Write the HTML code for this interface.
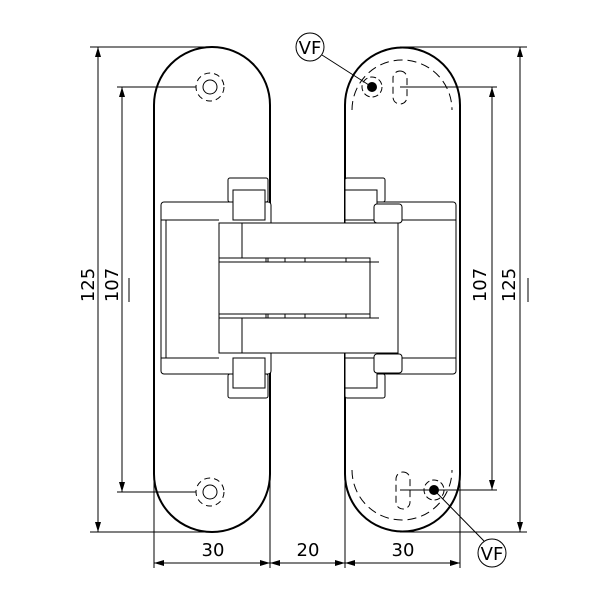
<!DOCTYPE html>
<html><head><style>body{margin:0;background:#fff}svg{display:block}text{font-family:"DejaVu Sans","Liberation Sans",sans-serif;font-size:18px;fill:#000}</style></head>
<body>
<svg width="600" height="600" viewBox="0 0 600 600" xmlns="http://www.w3.org/2000/svg">
<defs><marker id="a" markerWidth="10" markerHeight="8" refX="10" refY="4" orient="auto-start-reverse" markerUnits="userSpaceOnUse"><path d="M0,1 L10,4 L0,7 Z" fill="#000"/></marker></defs>
<g fill="none" stroke="#000" stroke-width="1">
<!-- plates -->
<path d="M154,105 A58,58 0 0 1 270,105 L270,474 A58,58 0 0 1 154,474 Z" stroke-width="2"/>
<path d="M345,105 A57.5,57.5 0 0 1 460,105 L460,474 A57.5,57.5 0 0 1 345,474 Z" stroke-width="2"/>
<path d="M352,110 A50,50 0 0 1 452,110" stroke-dasharray="9,5"/>
<path d="M352,470 A50,50 0 0 0 452,470" stroke-dasharray="9,5"/>
<!-- left body -->
<rect x="161" y="202" width="110" height="172" rx="3" fill="#fff"/>
<line x1="166" y1="220" x2="166" y2="358"/>
<path d="M161,220 H219 M161,358 H219"/>
<rect x="228" y="178" width="40" height="24" rx="2" fill="#fff"/>
<rect x="233" y="190" width="32" height="30" fill="#fff"/>
<rect x="228" y="374" width="40" height="24" rx="2" fill="#fff"/>
<rect x="233" y="358" width="32" height="30" fill="#fff"/>
<!-- right body -->
<rect x="345" y="202" width="111" height="172" rx="3" fill="#fff"/>
<path d="M398,220 H456 M398,358 H456"/>
<rect x="345" y="178" width="40" height="24" rx="2" fill="#fff"/>
<rect x="345" y="190" width="32" height="30" fill="#fff"/>
<rect x="345" y="374" width="40" height="24" rx="2" fill="#fff"/>
<rect x="345" y="358" width="32" height="30" fill="#fff"/>
<rect x="374" y="204" width="28" height="19" rx="3" fill="#fff"/>
<rect x="374" y="354" width="28" height="19" rx="3" fill="#fff"/>
<!-- central block -->
<rect x="219" y="223" width="179" height="130" fill="#fff"/>
<rect x="219" y="258" width="151" height="60" fill="#fff"/>
<path d="M370,262 H379 M370,318 H379 M242,223 V258 M242,318 V353 M219,262 H370 M219,314 H370"/>
<path d="M266,258 V262 M268,258 V262 M285,258 V262 M305,258 V262 M346,258 V262 M266,314 V318 M268,314 V318 M285,314 V318 M305,314 V318 M346,314 V318"/>
<!-- holes left -->
<circle cx="210" cy="87" r="7"/><circle cx="210" cy="87" r="14" stroke-dasharray="6,4"/>
<circle cx="210" cy="492" r="7"/><circle cx="210" cy="492" r="14" stroke-dasharray="6,4"/>
<!-- right holes -->
<rect x="393" y="71" width="14" height="33" rx="7" stroke-dasharray="7,4"/>
<rect x="396" y="472" width="14" height="37" rx="7" stroke-dasharray="7,4"/>
<circle cx="372" cy="87" r="10" stroke-dasharray="6,3"/>
<circle cx="434" cy="490" r="10" stroke-dasharray="6,3"/>
<!-- VF -->
<circle cx="310" cy="47" r="14"/><line x1="322" y1="55" x2="372" y2="87"/>
<circle cx="492" cy="553" r="14"/><line x1="484" y1="541" x2="434" y2="490"/>
<!-- extension lines -->
<path d="M90,47 H212 M117,87 H196 M117,492 H196 M90,532 H212"/>
<path d="M212,47 H212 M400,47 H527 M400,87 H497 M400,490 H497 M400,532 H527"/>
<path d="M154,474 V568 M270,474 V568 M345,474 V568 M460,474 V568"/>
<!-- dimension lines -->
<line x1="98" y1="47" x2="98" y2="532" marker-start="url(#a)" marker-end="url(#a)"/>
<line x1="122" y1="87" x2="122" y2="492" marker-start="url(#a)" marker-end="url(#a)"/>
<line x1="520" y1="47" x2="520" y2="532" marker-start="url(#a)" marker-end="url(#a)"/>
<line x1="492" y1="87" x2="492" y2="490" marker-start="url(#a)" marker-end="url(#a)"/>
<line x1="154" y1="563" x2="270" y2="563" marker-start="url(#a)" marker-end="url(#a)"/>
<line x1="270" y1="563" x2="345" y2="563" marker-start="url(#a)" marker-end="url(#a)"/>
<line x1="345" y1="563" x2="460" y2="563" marker-start="url(#a)" marker-end="url(#a)"/>
<path d="M129,278 V302 M528,278 V302"/>
</g>
<circle cx="372" cy="87" r="5"/><circle cx="434" cy="490" r="5"/>
<text x="310" y="54" text-anchor="middle" font-size="17">VF</text>
<text x="492" y="560" text-anchor="middle" font-size="17">VF</text>
<text x="213" y="556" text-anchor="middle">30</text>
<text x="308" y="556" text-anchor="middle">20</text>
<text x="403" y="556" text-anchor="middle">30</text>
<text transform="translate(94,285) rotate(-90)" text-anchor="middle">125</text>
<text transform="translate(118,285) rotate(-90)" text-anchor="middle">107</text>
<text transform="translate(486,285) rotate(-90)" text-anchor="middle">107</text>
<text transform="translate(515,285) rotate(-90)" text-anchor="middle">125</text>
</svg>
</body></html>
